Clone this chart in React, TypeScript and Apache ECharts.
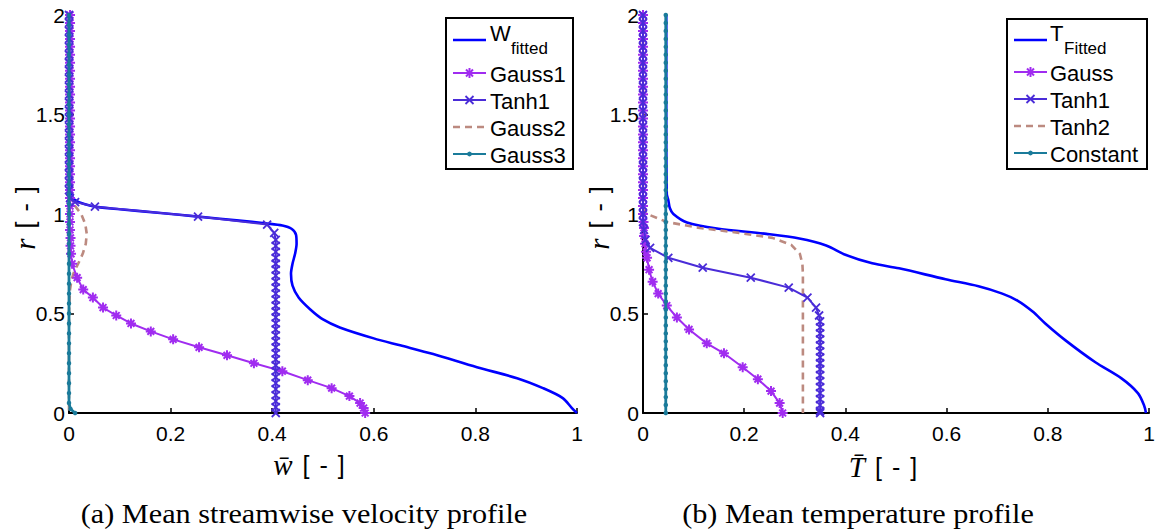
import React, { useEffect, useRef } from "react";
import * as echarts from "echarts";

// ---------- axes ----------
const xMin = 0, xMax = 1, xStep = 0.2;
const rMin = 0, rMax = 2, rStep = 0.5;

// ---------- panel (a): mean streamwise velocity, [w, r] ----------
const wFitted = [
  [0.002, 2], [0.002, 1.6], [0.003, 1.3], [0.004, 1.15], [0.006, 1.09], [0.012, 1.07], [0.03, 1.05],
  [0.051, 1.037], [0.1, 1.024], [0.18, 1.005], [0.254, 0.987], [0.33, 0.968], [0.39, 0.952],
  [0.42, 0.942], [0.438, 0.926], [0.447, 0.895], [0.448, 0.85], [0.445, 0.8], [0.44, 0.75],
  [0.437, 0.7], [0.44, 0.64], [0.452, 0.58], [0.475, 0.52], [0.5, 0.47], [0.533, 0.43],
  [0.6, 0.375], [0.652, 0.34], [0.717, 0.296], [0.803, 0.23], [0.882, 0.175], [0.933, 0.125],
  [0.972, 0.075], [0.99, 0.025], [1.0, 0]
];
const wGauss1 = [
  [0.002, 2], [0.002, 1.96], [0.002, 1.92], [0.002, 1.88], [0.002, 1.84], [0.002, 1.8], [0.002, 1.76],
  [0.002, 1.72], [0.002, 1.68], [0.002, 1.64], [0.002, 1.6], [0.002, 1.56], [0.002, 1.52], [0.002, 1.48],
  [0.002, 1.44], [0.002, 1.4], [0.002, 1.36], [0.002, 1.32], [0.002, 1.28], [0.002, 1.24], [0.002, 1.2],
  [0.002, 1.16], [0.002, 1.12], [0.002, 1.08], [0.002, 1.04], [0.002, 1.0], [0.002, 0.96], [0.002, 0.92],
  [0.003, 0.88], [0.003, 0.84], [0.004, 0.8], [0.006, 0.75], [0.016, 0.68], [0.028, 0.62], [0.047, 0.58],
  [0.067, 0.53], [0.093, 0.49], [0.122, 0.45], [0.161, 0.41], [0.205, 0.37], [0.256, 0.33], [0.311, 0.29],
  [0.364, 0.25], [0.42, 0.21], [0.47, 0.165], [0.517, 0.125], [0.552, 0.085], [0.573, 0.05],
  [0.58, 0.025], [0.583, 0]
];
const wTanh1 = [
  [0, 2], [0, 1.96], [0, 1.92], [0, 1.88], [0, 1.84], [0, 1.8], [0, 1.76], [0, 1.72], [0, 1.68], [0, 1.64],
  [0, 1.6], [0, 1.56], [0, 1.52], [0, 1.48], [0, 1.44], [0, 1.4], [0, 1.36], [0, 1.32], [0, 1.28], [0, 1.24],
  [0, 1.2], [0, 1.16], [0, 1.12], [0.002, 1.08], [0.012, 1.06], [0.051, 1.037], [0.254, 0.987],
  [0.39, 0.947], [0.404, 0.905], [0.407, 0.87], [0.407, 0.84], [0.407, 0.81], [0.407, 0.78], [0.407, 0.75],
  [0.407, 0.72], [0.407, 0.69], [0.407, 0.66], [0.407, 0.63], [0.407, 0.6], [0.407, 0.57], [0.407, 0.54],
  [0.407, 0.51], [0.407, 0.48], [0.407, 0.45], [0.407, 0.42], [0.407, 0.39], [0.407, 0.36], [0.407, 0.33],
  [0.407, 0.3], [0.407, 0.27], [0.407, 0.24], [0.407, 0.21], [0.407, 0.18], [0.407, 0.15], [0.407, 0.12],
  [0.407, 0.09], [0.407, 0.06], [0.407, 0.03], [0.407, 0]
];
const wGauss2 = [
  [0, 2], [0, 1.1], [0.004, 1.07], [0.012, 1.04], [0.024, 1.0], [0.032, 0.95], [0.035, 0.9],
  [0.033, 0.85], [0.027, 0.8], [0.018, 0.75], [0.01, 0.71], [0.005, 0.67], [0.002, 0.62], [0, 0.5], [0, 0]
];
const wGauss3 = [
  [0, 2], [0, 1.95], [0, 1.9], [0, 1.85], [0, 1.8], [0, 1.75], [0, 1.7], [0, 1.65], [0, 1.6], [0, 1.55],
  [0, 1.5], [0, 1.45], [0, 1.4], [0, 1.35], [0, 1.3], [0, 1.25], [0, 1.2], [0, 1.15], [0, 1.1], [0, 1.05],
  [0, 1.0], [0, 0.95], [0, 0.9], [0, 0.85], [0, 0.8], [0, 0.75], [0, 0.7], [0, 0.65], [0, 0.6], [0, 0.55],
  [0, 0.5], [0, 0.45], [0, 0.4], [0, 0.35], [0, 0.3], [0, 0.25], [0, 0.2], [0, 0.15], [0, 0.1], [0, 0.05],
  [0.003, 0.02], [0.012, 0]
];

// ---------- panel (b): mean temperature, [T, r] ----------
const tFitted = [
  [0.046, 2], [0.046, 1.5], [0.047, 1.1], [0.05, 1.07], [0.053, 1.03], [0.06, 1.0], [0.087, 0.957],
  [0.146, 0.927], [0.244, 0.9], [0.309, 0.877], [0.362, 0.842], [0.4, 0.795], [0.453, 0.752],
  [0.506, 0.727], [0.598, 0.672], [0.663, 0.637], [0.71, 0.6], [0.74, 0.565], [0.77, 0.51], [0.795, 0.45],
  [0.835, 0.365], [0.894, 0.255], [0.945, 0.175], [0.978, 0.1], [0.99, 0.04], [0.994, 0]
];
const tGauss = [
  [0, 2], [0, 1.96], [0, 1.92], [0, 1.88], [0, 1.84], [0, 1.8], [0, 1.76], [0, 1.72], [0, 1.68], [0, 1.64],
  [0, 1.6], [0, 1.56], [0, 1.52], [0, 1.48], [0, 1.44], [0, 1.4], [0, 1.36], [0, 1.32], [0, 1.28], [0, 1.24],
  [0, 1.2], [0, 1.16], [0, 1.12], [0, 1.08], [0, 1.04], [0, 1.0], [0.001, 0.96], [0.002, 0.93],
  [0.002, 0.89], [0.004, 0.85], [0.006, 0.81], [0.008, 0.78], [0.012, 0.72], [0.019, 0.66], [0.03, 0.6],
  [0.047, 0.54], [0.067, 0.48], [0.091, 0.42], [0.126, 0.35], [0.16, 0.3], [0.197, 0.23], [0.227, 0.17],
  [0.253, 0.11], [0.27, 0.05], [0.276, 0]
];
const tTanh1 = [
  [0, 2], [0, 1.96], [0, 1.92], [0, 1.88], [0, 1.84], [0, 1.8], [0, 1.76], [0, 1.72], [0, 1.68], [0, 1.64],
  [0, 1.6], [0, 1.56], [0, 1.52], [0, 1.48], [0, 1.44], [0, 1.4], [0, 1.36], [0, 1.32], [0, 1.28], [0, 1.24],
  [0, 1.2], [0, 1.16], [0, 1.12], [0, 1.08], [0, 1.04], [0, 1.0], [0, 0.96], [0.002, 0.92], [0.005, 0.87],
  [0.014, 0.83], [0.05, 0.78], [0.118, 0.73], [0.213, 0.68], [0.288, 0.63], [0.325, 0.58], [0.342, 0.53],
  [0.348, 0.49], [0.35, 0.46], [0.35, 0.43], [0.35, 0.4], [0.35, 0.37], [0.35, 0.34], [0.35, 0.31],
  [0.35, 0.28], [0.35, 0.25], [0.35, 0.22], [0.35, 0.19], [0.35, 0.16], [0.35, 0.13], [0.35, 0.1],
  [0.35, 0.07], [0.35, 0.04], [0.35, 0.01], [0.35, 0]
];
const tTanh2 = [
  [0, 2], [0, 1.03], [0.008, 1.0], [0.047, 0.96], [0.112, 0.93], [0.19, 0.905], [0.256, 0.88],
  [0.293, 0.845], [0.31, 0.8], [0.315, 0.75], [0.316, 0.7], [0.316, 0]
];
const tConstant = [
  [0.045, 2], [0.045, 1.96], [0.045, 1.92], [0.045, 1.88], [0.045, 1.84], [0.045, 1.8], [0.045, 1.76],
  [0.045, 1.72], [0.045, 1.68], [0.045, 1.64], [0.045, 1.6], [0.045, 1.56], [0.045, 1.52], [0.045, 1.48],
  [0.045, 1.44], [0.045, 1.4], [0.045, 1.36], [0.045, 1.32], [0.045, 1.28], [0.045, 1.24], [0.045, 1.2],
  [0.045, 1.16], [0.045, 1.12], [0.045, 1.08], [0.045, 1.04], [0.045, 1.0], [0.045, 0.96], [0.045, 0.92],
  [0.045, 0.88], [0.045, 0.84], [0.045, 0.8], [0.045, 0.76], [0.045, 0.72], [0.045, 0.68], [0.045, 0.64],
  [0.045, 0.6], [0.045, 0.56], [0.045, 0.52], [0.045, 0.48], [0.045, 0.44], [0.045, 0.4], [0.045, 0.36],
  [0.045, 0.32], [0.045, 0.28], [0.045, 0.24], [0.045, 0.2], [0.045, 0.16], [0.045, 0.12], [0.045, 0.08],
  [0.045, 0.04], [0.045, 0]
];

const legendA = [["W", "fitted"], ["Gauss1"], ["Tanh1"], ["Gauss2"], ["Gauss3"]];
const legendB = [["T", "Fitted"], ["Gauss"], ["Tanh1"], ["Tanh2"], ["Constant"]];
const captionA = "(a) Mean streamwise velocity profile";
const captionB = "(b) Mean temperature profile";

// ---------- styles ----------
const BLUE = "#0000ff";
const PURPLE = "#a02cf0";
const INDIGO = "#4a2cd8";
const BROWN = "#bc8a80";
const TEAL = "#1a7b9a";
const SANS = "Liberation Sans, Arial, sans-serif";
const SERIF = "Liberation Serif, Times New Roman, serif";

const ASTERISK = "path://M5,0L5,10M0,5L10,5M1.6,1.6L8.4,8.4M8.4,1.6L1.6,8.4";
const CROSS = "path://M0,0L10,10M10,0L0,10";

type Kind = "fit" | "ast" | "cross" | "dash" | "dot";

function mkSeries(name: string, data: number[][], idx: number, kind: Kind) {
  const base: any = {
    name,
    type: "line",
    data,
    xAxisIndex: idx,
    yAxisIndex: idx,
    clip: false,
    silent: true,
    showSymbol: false,
    symbol: "none",
  };
  if (kind === "fit") {
    base.color = BLUE;
    base.lineStyle = { color: BLUE, width: 2.6 };
    base.smooth = 0.3;
    base.z = 2;
  } else if (kind === "ast") {
    base.color = PURPLE;
    base.lineStyle = { color: PURPLE, width: 2 };
    base.showSymbol = true;
    base.symbol = ASTERISK;
    base.symbolSize = 10;
    base.itemStyle = { color: PURPLE, borderColor: PURPLE, borderWidth: 2 };
    base.z = 4;
  } else if (kind === "cross") {
    base.color = INDIGO;
    base.lineStyle = { color: INDIGO, width: 2 };
    base.showSymbol = true;
    base.symbol = CROSS;
    base.symbolSize = 8;
    base.itemStyle = { color: INDIGO, borderColor: INDIGO, borderWidth: 1.8 };
    base.z = 5;
  } else if (kind === "dash") {
    base.color = BROWN;
    base.lineStyle = { color: BROWN, width: 2.6, type: [7, 5] };
    base.z = 3;
  } else {
    base.color = TEAL;
    base.lineStyle = { color: TEAL, width: 2.8 };
    base.showSymbol = true;
    base.symbol = "circle";
    base.symbolSize = 4.5;
    base.itemStyle = { color: TEAL, borderWidth: 0 };
    base.z = 6;
  }
  return base;
}

function axisCommon() {
  return {
    type: "value",
    axisLine: { show: true, onZero: false, lineStyle: { color: "#000", width: 2 } },
    axisTick: { show: true, inside: true, length: 5, lineStyle: { color: "#000", width: 1.5 } },
    splitLine: { show: false },
    axisLabel: { color: "#000", fontSize: 21, fontFamily: SANS },
  };
}

function seg(x1: number, y1: number, x2: number, y2: number, color: string, w: number, dash?: number[]) {
  return {
    type: "line",
    z: 100,
    shape: { x1, y1, x2, y2 },
    style: { stroke: color, lineWidth: w, lineDash: dash },
  };
}

function legendBox(x: number, y: number, w: number, h: number, lineX1: number, lineX2: number, textX: number, items: string[][], rows: number[], subX: number) {
  const els: any[] = [];
  els.push({ type: "rect", z: 99, shape: { x, y, width: w, height: h }, style: { fill: "#fff", stroke: "#000", lineWidth: 2 } });
  const kinds: Kind[] = ["fit", "ast", "cross", "dash", "dot"];
  const colors = [BLUE, PURPLE, INDIGO, BROWN, TEAL];
  const cx = (lineX1 + lineX2) / 2;
  items.forEach((it, i) => {
    const ly = rows[i];
    const k = kinds[i];
    els.push(seg(lineX1, ly, lineX2, ly, colors[i], k === "fit" || k === "dash" ? 2.6 : 2, k === "dash" ? [7, 5] : undefined));
    if (k === "ast") {
      const s = 5;
      els.push(seg(cx, ly - s, cx, ly + s, PURPLE, 2));
      els.push(seg(cx - s, ly, cx + s, ly, PURPLE, 2));
      els.push(seg(cx - 3.5, ly - 3.5, cx + 3.5, ly + 3.5, PURPLE, 2));
      els.push(seg(cx + 3.5, ly - 3.5, cx - 3.5, ly + 3.5, PURPLE, 2));
    } else if (k === "cross") {
      els.push(seg(cx - 4, ly - 4, cx + 4, ly + 4, INDIGO, 1.8));
      els.push(seg(cx + 4, ly - 4, cx - 4, ly + 4, INDIGO, 1.8));
    } else if (k === "dot") {
      els.push({ type: "circle", z: 100, shape: { cx, cy: ly, r: 2.4 }, style: { fill: TEAL } });
    }
    if (it.length > 1) {
      els.push({ type: "text", z: 100, x: textX, y: ly - 7, style: { text: it[0], fontSize: 22, fontFamily: SANS, fill: "#000", verticalAlign: "middle", align: "left" } });
      els.push({ type: "text", z: 100, x: subX, y: ly + 8, style: { text: it[1], fontSize: 17, fontFamily: SANS, fill: "#000", verticalAlign: "middle", align: "left" } });
    } else {
      els.push({ type: "text", z: 100, x: textX, y: ly + 1, style: { text: it[0], fontSize: 22, fontFamily: SANS, fill: "#000", verticalAlign: "middle", align: "left" } });
    }
  });
  return els;
}

function axisTitle(x: number, y: number, sym: string, rot: number) {
  return {
    type: "text",
    z: 100,
    x,
    y,
    rotation: rot,
    style: {
      text: "{i|" + sym + "}{s| }{b|[}{d|-}{b|]}",
      align: "center",
      verticalAlign: "middle",
      rich: {
        i: { fontFamily: SERIF, fontStyle: "italic", fontSize: 29, fill: "#000" },
        s: { fontFamily: SANS, fontSize: 24, fill: "#000", width: 10 },
        b: { fontFamily: SANS, fontSize: 25, fill: "#000" },
        d: { fontFamily: SANS, fontSize: 25, fill: "#000", padding: [0, 10, 0, 10] },
      },
    },
  };
}

function caption(x: number, text: string) {
  return {
    type: "text",
    z: 100,
    x,
    y: 514,
    scaleX: 1.12,
    style: { text, fontFamily: SERIF, fontSize: 27, fill: "#000", align: "center", verticalAlign: "middle" },
  };
}

export default function App() {
  const ref = useRef<HTMLDivElement>(null);
  useEffect(() => {
    if (!ref.current) return;
    const chart = echarts.init(ref.current, undefined, { renderer: "svg" });
    const xAx = [0, 1].map((i) => ({
      ...axisCommon(),
      gridIndex: i,
      min: xMin,
      max: xMax,
      interval: xStep,
      axisLabel: { ...axisCommon().axisLabel, margin: 10 },
    }));
    const yAx = [0, 1].map((i) => ({
      ...axisCommon(),
      gridIndex: i,
      min: rMin,
      max: rMax,
      interval: rStep,
      axisLabel: { ...axisCommon().axisLabel, margin: 4 },
    }));
    const option: any = {
      animation: false,
      backgroundColor: "#fff",
      grid: [
        { left: 69, top: 15, width: 508, height: 398 },
        { left: 643, top: 15, width: 506, height: 398 },
      ],
      xAxis: xAx,
      yAxis: yAx,
      series: [
        mkSeries("Gauss3", wGauss3, 0, "dot"),
        mkSeries("Gauss2", wGauss2, 0, "dash"),
        mkSeries("Tanh1", wTanh1, 0, "cross"),
        mkSeries("Gauss1", wGauss1, 0, "ast"),
        mkSeries("W_fitted", wFitted, 0, "fit"),
        mkSeries("Constant", tConstant, 1, "dot"),
        mkSeries("Tanh2", tTanh2, 1, "dash"),
        mkSeries("Tanh1", tTanh1, 1, "cross"),
        mkSeries("Gauss", tGauss, 1, "ast"),
        mkSeries("T_Fitted", tFitted, 1, "fit"),
      ],
      graphic: [
        ...legendBox(446, 18, 127, 151, 453, 486, 490, legendA, [40, 73, 100, 127, 154], 511),
        ...legendBox(1007, 19, 140, 150, 1014, 1047, 1050, legendB, [40, 72, 99, 126, 153], 1064),
        axisTitle(309, 465, "w\u0304", 0),
        axisTitle(883, 467, "T\u0304", 0),
        axisTitle(25, 218, "r", Math.PI / 2),
        axisTitle(599, 218, "r", Math.PI / 2),
        caption(304, captionA),
        caption(858, captionB),
      ],
    };
    chart.setOption(option);
    return () => chart.dispose();
  }, []);
  return <div ref={ref} style={{ position: "fixed", left: 0, top: 0, width: 1161, height: 531 }} />;
}
